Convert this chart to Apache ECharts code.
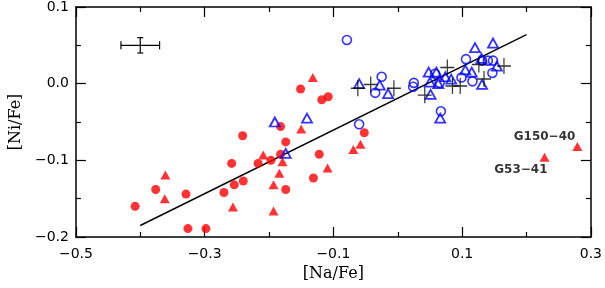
<!DOCTYPE html>
<html>
<head>
<meta charset="utf-8">
<script src="https://cdn.jsdelivr.net/npm/echarts@6/dist/echarts.min.js"></script>
<style>html,body{margin:0;padding:0;background:#fff}#c{width:605px;height:288px}</style>
</head>
<body>
<div id="c"></div>
<script>
// ---- data ([Na/Fe], [Ni/Fe]) ----
const redCircles = [
  [-0.408,-0.160],[-0.376,-0.138],[-0.329,-0.144],[-0.326,-0.189],[-0.298,-0.189],
  [-0.270,-0.142],[-0.258,-0.104],[-0.254,-0.132],[-0.241,-0.068],[-0.240,-0.127],
  [-0.217,-0.104],[-0.197,-0.100],[-0.182,-0.092],[-0.182,-0.056],[-0.174,-0.076],
  [-0.174,-0.138],[-0.151,-0.007],[-0.131,-0.123],[-0.122,-0.092],[-0.118,-0.021],
  [-0.108,-0.017],[-0.052,-0.064]
];
const redTriangles = [
  [-0.361,-0.119],[-0.362,-0.150],[-0.256,-0.161],[-0.209,-0.093],[-0.193,-0.132],
  [-0.193,-0.166],[-0.184,-0.117],[-0.179,-0.102],[-0.150,-0.059],[-0.132,0.008],
  [-0.109,-0.110],[-0.069,-0.086],[-0.058,-0.079]
];
const starNames = ['G53−41','G150−40'];
const namedStars = [[0.228,-0.096],[0.279,-0.082]];
const blueCircles = [
  [-0.079,0.057],[-0.025,0.009],[-0.035,-0.012],[-0.060,-0.053],[0.025,0.001],
  [0.024,-0.004],[0.067,-0.036],[0.106,0.032],[0.131,0.030],[0.140,0.030],
  [0.148,0.030],[0.147,0.014],[0.116,0.003],[0.099,0.008],[0.058,0.013],[0.065,0.001]
];
const blueTriangles = [
  [-0.191,-0.050],[-0.141,-0.045],[-0.174,-0.091],[-0.060,0.000],[-0.028,-0.002],
  [-0.015,-0.013],[0.048,0.015],[0.060,0.015],[0.051,-0.014],[0.066,-0.045],
  [0.120,0.047],[0.148,0.053],[0.105,0.018],[0.115,0.015],[0.130,0.033],
  [0.154,0.023],[0.131,-0.001],[0.074,0.009],[0.083,0.006],[0.050,0.002],[0.063,0.000]
];
const crosses = [
  [-0.062,-0.006],[-0.042,-0.001],[-0.006,-0.006],[0.042,-0.015],[0.077,0.021],
  [0.085,-0.003],[0.097,-0.003],[0.126,0.025],[0.134,0.006],[0.165,0.023]
];
const fitLine = [[-0.40,-0.185],[0.20,0.064]];
const errorBar = [[-0.40,0.05,0.03,0.01]]; // x, y, xerr, yerr
const xTicks = {min:-0.5,max:0.3,step:0.2};
const yTicks = {min:-0.2,max:0.1,step:0.1};

const fmt = v => (Math.round(v*10)/10).toFixed(1).replace('-', '−');
const FONT = 'DejaVu Sans';
const axisCommon = {
  axisLine:{show:true,onZero:false,lineStyle:{color:'#000',width:1.5}},
  axisTick:{show:true,inside:true,length:10,lineStyle:{color:'#000',width:1.2}},
  minorTick:{show:true,splitNumber:2,length:5,lineStyle:{color:'#000',width:1.2}},
  splitLine:{show:false}
};
const xBase = Object.assign({type:'value',min:xTicks.min,max:xTicks.max,interval:xTicks.step}, axisCommon);
const yBase = Object.assign({type:'value',min:yTicks.min,max:yTicks.max,interval:yTicks.step}, axisCommon);

const chart = echarts.init(document.getElementById('c'), null, {renderer:'canvas'});
const labelled = namedStars.map((p,i)=>({
  value:p,
  label:{show:true,formatter:starNames[i],
    position: i===0 ? [8,17] : [3,-5],
    align:'right',verticalAlign:'middle',
    fontFamily:FONT,fontSize:12,fontWeight:'bold',color:'#000'}
}));
chart.setOption({
  animation:false,
  grid:{left:73,right:11,top:1,bottom:51},
  xAxis:[
    Object.assign({}, xBase, {position:'bottom',
      name:'[Na/Fe]',nameLocation:'middle',nameGap:28,
      nameTextStyle:{fontFamily:'DejaVu Serif',fontSize:16,color:'#000'},
      axisLabel:{margin:10,formatter:fmt,fontFamily:FONT,fontSize:14,color:'#000',showMinLabel:true,showMaxLabel:true}}),
    Object.assign({}, xBase, {position:'top',axisLabel:{show:false}})
  ],
  yAxis:[
    Object.assign({}, yBase, {position:'left',
      name:'[Ni/Fe]',nameLocation:'middle',nameGap:50,nameRotate:90,
      nameTextStyle:{fontFamily:'DejaVu Serif',fontSize:16,color:'#000'},
      axisLabel:{margin:7,formatter:fmt,fontFamily:FONT,fontSize:14,color:'#000',showMinLabel:true,showMaxLabel:true}}),
    Object.assign({}, yBase, {position:'right',axisLabel:{show:false}})
  ],
  series:[
    {type:'line',data:fitLine,symbol:'none',lineStyle:{color:'#000',width:1.4},z:1},
    {type:'scatter',data:redCircles,symbol:'circle',symbolSize:9,itemStyle:{color:'#ff0000'},z:2},
    {type:'scatter',data:redTriangles,symbol:'triangle',symbolSize:[10,9],itemStyle:{color:'#ff0000'},z:2},
    {type:'scatter',data:labelled,symbol:'triangle',symbolSize:[10,9],itemStyle:{color:'#ff0000'},z:3},
    {type:'scatter',data:blueCircles,symbol:'circle',symbolSize:9,
      itemStyle:{color:'rgba(0,0,0,0)',borderColor:'#0000ff',borderWidth:1.6},z:3},
    {type:'scatter',data:blueTriangles,symbol:'triangle',symbolSize:[10,9],
      itemStyle:{color:'rgba(0,0,0,0)',borderColor:'#0000ff',borderWidth:1.8},z:3},
    {type:'scatter',data:crosses,symbol:'path://M5,0L5,10M0,5L10,5',symbolSize:[14,16],
      itemStyle:{color:'rgba(0,0,0,0)',borderColor:'#000',borderWidth:1.3},z:4},
    {type:'custom',data:errorBar,z:5,
      renderItem:function(params,api){
        const x=api.value(0),y=api.value(1),ex=api.value(2),ey=api.value(3);
        const L=api.coord([x-ex,y]),R=api.coord([x+ex,y]),T=api.coord([x,y+ey]),B=api.coord([x,y-ey]);
        const st={stroke:'#000',lineWidth:1.2};
        const c=4,v=3;
        return {type:'group',children:[
          {type:'line',shape:{x1:L[0],y1:L[1],x2:R[0],y2:R[1]},style:st},
          {type:'line',shape:{x1:T[0],y1:T[1],x2:B[0],y2:B[1]},style:st},
          {type:'line',shape:{x1:L[0],y1:L[1]-c,x2:L[0],y2:L[1]+c},style:st},
          {type:'line',shape:{x1:R[0],y1:R[1]-c,x2:R[0],y2:R[1]+c},style:st},
          {type:'line',shape:{x1:T[0]-v,y1:T[1],x2:T[0]+v,y2:T[1]},style:st},
          {type:'line',shape:{x1:B[0]-v,y1:B[1],x2:B[0]+v,y2:B[1]},style:st}
        ]};
      }}
  ]
});
</script>
</body>
</html>
